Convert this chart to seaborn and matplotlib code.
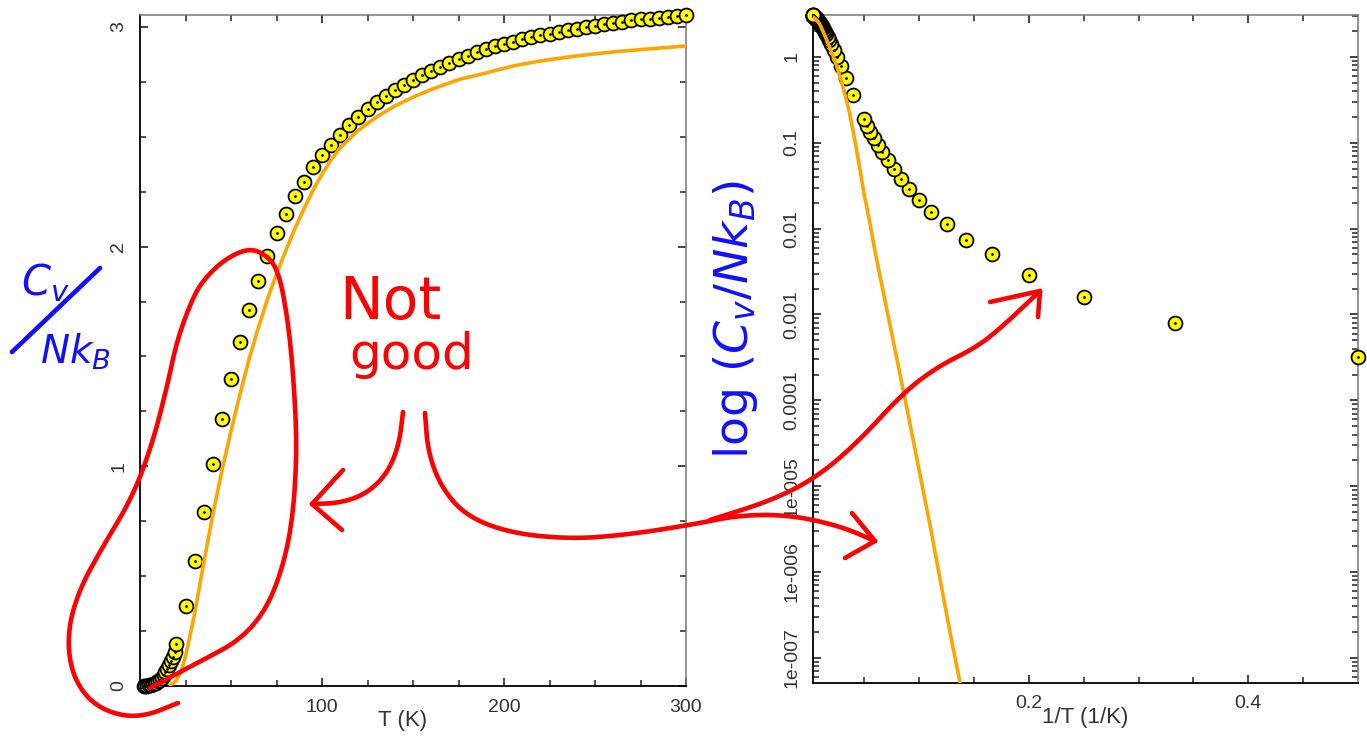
import numpy as np
import pandas as pd
import matplotlib
matplotlib.use("Agg")
import matplotlib.pyplot as plt
from matplotlib.ticker import FixedLocator, FuncFormatter, NullFormatter
import seaborn as sns

# ---------------- data ----------------
T_pts = list(range(2, 21)) + list(range(25, 301, 5))
Cv_pts = [3.2e-4, 7.9e-4, 1.6e-3, 2.9e-3, 5.0e-3, 7.4e-3, 0.0114, 0.0158, 0.0217, 0.029,
          0.038, 0.050, 0.063, 0.0785, 0.095, 0.113, 0.133, 0.157, 0.19,
          0.364, 0.569, 0.791, 1.009, 1.214, 1.397, 1.564, 1.711, 1.843, 1.957,
          2.060, 2.147, 2.23, 2.295, 2.36, 2.415, 2.462, 2.508, 2.552, 2.590,
          2.625, 2.656, 2.684, 2.711, 2.736, 2.758, 2.780, 2.800, 2.819, 2.837,
          2.854, 2.869, 2.884, 2.898, 2.911, 2.922, 2.933, 2.943, 2.952, 2.961,
          2.969, 2.977, 2.985, 2.992, 2.999, 3.006, 3.012, 3.018, 3.024, 3.029,
          3.034, 3.038, 3.042, 3.045, 3.049, 3.052]

T_fit = [7.1, 7.69, 8.33, 9.09, 10, 11.1, 12.5, 14.3, 16.8, 18, 20, 22.5, 25, 27.5, 30,
         35, 40, 45, 50, 55, 60, 65, 70, 75, 80, 85, 90, 95, 100, 105, 110, 120, 130,
         140, 150, 160, 175, 190, 205, 220, 240, 260, 280, 300]
Cv_fit = [3.1e-8, 1.5e-7, 7.1e-7, 3.5e-6, 1.55e-5, 6.8e-5, 2.95e-4, 1.26e-3, 5.7e-3,
          0.011, 0.025, 0.065, 0.135, 0.23, 0.33, 0.56, 0.78, 0.98, 1.16, 1.33, 1.49,
          1.63, 1.76, 1.875, 1.98, 2.08, 2.17, 2.255, 2.33, 2.395, 2.45, 2.53, 2.59,
          2.64, 2.68, 2.715, 2.76, 2.79, 2.822, 2.845, 2.868, 2.886, 2.900, 2.913]

x_ticks_left = [100, 200, 300]
y_ticks_left = [0, 1, 2, 3]
x_ticks_right = [0.2, 0.4]
y_ticks_right = [1e-7, 1e-6, 1e-5, 1e-4, 1e-3, 1e-2, 1e-1, 1]

assert len(T_pts) == len(Cv_pts)
assert len(T_fit) == len(Cv_fit)

pts = pd.DataFrame({"T": T_pts, "Cv": Cv_pts})
pts["invT"] = 1.0 / pts["T"]
fit = pd.DataFrame({"T": T_fit, "Cv": Cv_fit})
fit["invT"] = 1.0 / fit["T"]

# ---------------- style ----------------
sns.set_style("ticks")
plt.rcParams["font.family"] = ["Liberation Sans", "DejaVu Sans"]
plt.rcParams["font.size"] = 14

W, H = 1367, 740
fig = plt.figure(figsize=(W / 100, H / 100), dpi=100)

axL = fig.add_axes([140 / W, 54 / H, 546 / W, 671 / H])
axR = fig.add_axes([813 / W, 57 / H, 545 / W, 668 / H])

YELLOW = "#FFFF00"
ORANGE = "#FFA500"


def draw(ax, xcol, fit_df):
    sns.scatterplot(data=pts, x=xcol, y="Cv", ax=ax, s=100, color=YELLOW,
                    edgecolor="black", linewidth=1.3, zorder=3, clip_on=False,
                    legend=False)
    sns.scatterplot(data=pts, x=xcol, y="Cv", ax=ax, s=4, color="black",
                    linewidth=0, zorder=4, clip_on=False, legend=False)
    sns.lineplot(data=fit_df, x=xcol, y="Cv", ax=ax, color=ORANGE, linewidth=2.6,
                 zorder=5, legend=False)


def style(ax):
    for side in ["left", "bottom"]:
        ax.spines[side].set_color("black")
        ax.spines[side].set_linewidth(1.3)
    for side in ["top", "right"]:
        ax.spines[side].set_visible(True)
        ax.spines[side].set_color("#777777")
        ax.spines[side].set_linewidth(1.1)
    ax.tick_params(which="both", direction="in", top=True, right=True,
                   colors="#222222", labelcolor="#333333", labelsize=14)
    ax.tick_params(which="major", length=6, width=1.2, pad=9)
    ax.tick_params(which="minor", length=4, width=1.1)
    ax.tick_params(axis="y", labelrotation=90)
    ax.set_ylabel("")


# Left panel
draw(axL, "T", fit[fit["T"] >= 15])
axL.set_xlim(0, 300)
axL.set_ylim(0, 3.054)
axL.xaxis.set_major_locator(FixedLocator(x_ticks_left))
axL.xaxis.set_minor_locator(FixedLocator([v for v in range(25, 300, 25) if v not in x_ticks_left]))
axL.xaxis.set_major_formatter(FuncFormatter(lambda v, p: f"{int(round(v))}"))
axL.yaxis.set_major_locator(FixedLocator(y_ticks_left))
axL.yaxis.set_minor_locator(FixedLocator([k * 0.25 for k in range(1, 12) if k % 4]))
axL.yaxis.set_major_formatter(FuncFormatter(lambda v, p: f"{int(round(v))}"))
style(axL)
axL.set_xlabel("T (K)", fontsize=16, color="#333333")
axL.xaxis.set_label_coords(0.48, -0.052)
axL.xaxis.label.set_va("center")

# Right panel
draw(axR, "invT", fit)
axR.set_yscale("log")
axR.set_xlim(1 / 300, 0.5)
axR.set_ylim(5.1e-8, 3.08)
axR.xaxis.set_major_locator(FixedLocator(x_ticks_right))
axR.xaxis.set_minor_locator(FixedLocator([0.05, 0.1, 0.15, 0.25, 0.3, 0.35, 0.45]))
axR.xaxis.set_major_formatter(FuncFormatter(lambda v, p: f"{v:.1f}"))
minor_log = [k * 10.0 ** e for e in range(-8, 1) for k in range(2, 10)
             if 5.1e-8 <= k * 10.0 ** e <= 3.08]
axR.yaxis.set_major_locator(FixedLocator(y_ticks_right))
axR.yaxis.set_minor_locator(FixedLocator(minor_log))
axR.yaxis.set_minor_formatter(NullFormatter())


def logfmt(v, p):
    e = int(round(np.log10(v)))
    if e <= -5:
        return f"1e-{-e:03d}"
    if e >= 0:
        return f"{10 ** e:d}"
    return f"{10.0 ** e:.{-e}f}"


axR.yaxis.set_major_formatter(FuncFormatter(logfmt))
style(axR)
axR.set_xlabel("1/T (1/K)", fontsize=16, color="#333333")
axR.xaxis.set_label_coords(0.5, -0.052)
axR.xaxis.label.set_va("center")

# ---------------- hand-drawn annotations (overlay in pixel coords) ----------------
ov = fig.add_axes([0, 0, 1, 1], zorder=10)
ov.set_xlim(0, W)
ov.set_ylim(H, 0)
ov.axis("off")
ov.patch.set_visible(False)

RED = "#FF0000"
BLUE = "#1010FF"
kw = dict(color=RED, linewidth=3.3, solid_capstyle="round", solid_joinstyle="round")


def chaikin(path, n=3):
    p = np.asarray(path, dtype=float)
    for _ in range(n):
        q = 0.75 * p[:-1] + 0.25 * p[1:]
        r = 0.25 * p[:-1] + 0.75 * p[1:]
        mid = np.empty((2 * len(q), 2))
        mid[0::2] = q
        mid[1::2] = r
        p = np.vstack([p[:1], mid, p[-1:]])
    return p[:, 0], p[:, 1]


loop = [(150, 688), (203, 660), (240, 640), (266, 610), (283, 567), (293, 517), (297, 450),
        (294, 383), (288, 320), (278, 268), (262, 252), (246, 249), (224, 260), (205, 278),
        (193, 297), (177, 340), (167, 387), (152, 445), (132, 498), (102, 548), (80, 588),
        (68, 628), (70, 668), (86, 698), (112, 714), (143, 717), (178, 703)]
ov.plot(*chaikin(loop), **kw)

arrow1 = [(403, 412), (399, 445), (387, 474), (366, 494), (340, 503), (312, 504)]
ov.plot(*chaikin(arrow1), **kw)
ov.plot([343, 312, 342], [470, 504, 530], **kw)

arrow2 = [(425, 413), (428, 452), (441, 487), (466, 516), (510, 533), (570, 539), (625, 535),
          (690, 525), (740, 515), (790, 515), (840, 526), (875, 541)]
ov.plot(*chaikin(arrow2), **kw)
ov.plot([852, 875, 845], [513, 541, 558], **kw)

arrow3 = [(710, 520), (773, 500), (817, 477), (857, 443), (903, 393), (937, 367),
          (977, 347), (1003, 326), (1040, 291)]
ov.plot(*chaikin(arrow3), **kw)
ov.plot([990, 1040, 1038], [302, 291, 317], **kw)

ov.text(390, 302, "Not", color=RED, fontsize=42, ha="center", va="center",
        family=["DejaVu Sans"])
ov.text(412, 355, "good", color=RED, fontsize=36, ha="center", va="center",
        family=["DejaVu Sans"])

ov.text(45, 283, r"$C_v$", color=BLUE, fontsize=30, ha="center", va="center")
ov.plot([12, 100], [352, 268], color=BLUE, linewidth=3.3, solid_capstyle="round")
ov.text(75, 352, r"$Nk_B$", color=BLUE, fontsize=28, ha="center", va="center")

ov.text(735, 320, r"$\log\,(C_v/Nk_B)$", color=BLUE, fontsize=34, rotation=90,
        ha="center", va="center")

# centre the rotated y tick labels on their ticks
fig.canvas.draw()
for ax in (axL, axR):
    for lab in ax.get_yticklabels():
        lab.set_va("center")

fig.savefig("out.png", dpi=100)
